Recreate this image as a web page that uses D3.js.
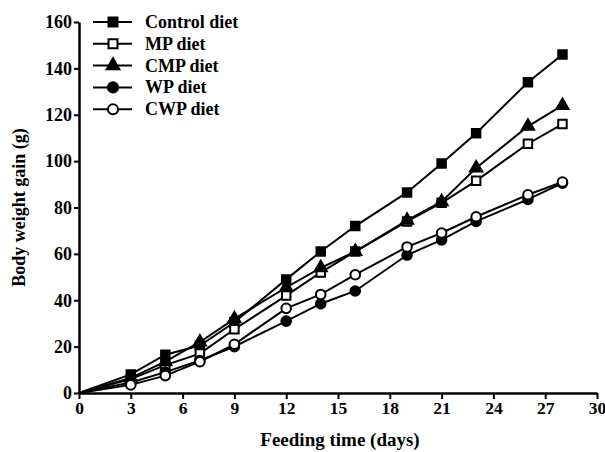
<!DOCTYPE html>
<html>
<head>
<meta charset="utf-8">
<script src="https://cdn.jsdelivr.net/npm/d3@7"></script>
<style>
  body { margin: 0; background: #fff; }
  svg { display: block; }
  text { font-family: "Liberation Serif", "Times New Roman", serif; font-weight: bold; }
</style>
</head>
<body>
<script>
const days = [0, 3, 5, 7, 9, 12, 14, 16, 19, 21, 23, 26, 28];
const control = [0, 8, 16.5, 20.5, 30.5, 49, 61, 72, 86.5, 99, 112, 134, 146];
const mp = [0, 6, 12, 17, 27.5, 42, 52, 61, 74, 82, 91.5, 107.5, 116];
const cmp = [0, 6.5, 13.5, 22, 32, 45.5, 54, 61, 74.5, 82.5, 97, 115, 124];
const wp = [0, 4.5, 9, 14, 20, 31, 38.5, 44, 59.5, 66, 74, 83.5, 90.5];
const cwp = [0, 3.5, 7.5, 13.5, 21, 36.5, 42.5, 51, 63, 69, 76, 85.5, 91];
const xTicks = [0, 3, 6, 9, 12, 15, 18, 21, 24, 27, 30];
const yTicks = [0, 20, 40, 60, 80, 100, 120, 140, 160];

const series = [
  { name: "Control diet", values: control, shape: "square", fill: "#000" },
  { name: "MP diet", values: mp, shape: "square", fill: "#fff" },
  { name: "CMP diet", values: cmp, shape: "triangle", fill: "#000" },
  { name: "WP diet", values: wp, shape: "circle", fill: "#000" },
  { name: "CWP diet", values: cwp, shape: "circle", fill: "#fff" },
];

const width = 605, height = 452;
const marginLeft = 79, marginRight = 8, marginTop = 22, marginBottom = 59;

const x = d3.scaleLinear([0, 30], [marginLeft, width - marginRight]);
const y = d3.scaleLinear([0, 160], [height - marginBottom, marginTop]);

const svg = d3.select("body").append("svg")
  .attr("width", width)
  .attr("height", height)
  .attr("viewBox", [0, 0, width, height]);

const symbolPath = (shape, big) => {
  if (shape === "square") return d3.symbol(d3.symbolSquare, big ? 80 : 72)();
  if (shape === "triangle") return d3.symbol(d3.symbolTriangle, big ? 70 : 64)();
  return d3.symbol(d3.symbolCircle, big ? 80 : 72)();
};

// x-axis
svg.append("g")
  .attr("transform", `translate(0,${height - marginBottom})`)
  .call(d3.axisBottom(x).tickValues(xTicks).tickSize(6).tickPadding(3).tickSizeOuter(0))
  .call((g) => g.select(".domain").attr("stroke-width", 2.5))
  .call((g) => g.selectAll(".tick line").attr("stroke-width", 2))
  .call((g) => g.selectAll(".tick text").attr("font-size", 17.5).attr("fill", "#000"));

// y-axis
svg.append("g")
  .attr("transform", `translate(${marginLeft},0)`)
  .call(d3.axisLeft(y).tickValues(yTicks).tickSize(5).tickPadding(2).tickSizeOuter(0))
  .call((g) => g.select(".domain").attr("stroke-width", 2.5))
  .call((g) => g.selectAll(".tick line").attr("stroke-width", 2))
  .call((g) => g.selectAll(".tick text").attr("font-size", 18).attr("fill", "#000"));

// axis titles
svg.append("text")
  .attr("x", 340)
  .attr("y", 446)
  .attr("text-anchor", "middle")
  .attr("font-size", 19)
  .text("Feeding time (days)");

svg.append("text")
  .attr("transform", `translate(25,${(marginTop + height - marginBottom) / 2}) rotate(-90)`)
  .attr("text-anchor", "middle")
  .attr("font-size", 18)
  .text("Body weight gain (g)");

// lines + markers
const line = d3.line().x((d, i) => x(days[i])).y((d) => y(d));

series.forEach((s) => {
  svg.append("path")
    .attr("d", line(s.values))
    .attr("fill", "none")
    .attr("stroke", "#000")
    .attr("stroke-width", 2);
});

series.forEach((s) => {
  svg.append("g")
    .selectAll("path")
    .data(s.values.slice(1))
    .join("path")
    .attr("transform", (d, i) => `translate(${x(days[i + 1])},${y(d)})`)
    .attr("d", symbolPath(s.shape, false))
    .attr("fill", s.fill)
    .attr("stroke", "#000")
    .attr("stroke-width", 2);
});

// legend
const legend = svg.append("g").attr("transform", "translate(93,22)");
series.forEach((s, i) => {
  const row = legend.append("g").attr("transform", `translate(0,${i * 21.8})`);
  row.append("line")
    .attr("x1", 0).attr("x2", 39)
    .attr("stroke", "#000").attr("stroke-width", 2);
  row.append("path")
    .attr("transform", "translate(20,0)")
    .attr("d", symbolPath(s.shape, true))
    .attr("fill", s.fill)
    .attr("stroke", "#000")
    .attr("stroke-width", 2);
  row.append("text")
    .attr("x", 52)
    .attr("y", 6)
    .attr("font-size", 18)
    .text(s.name);
});
</script>
</body>
</html>
